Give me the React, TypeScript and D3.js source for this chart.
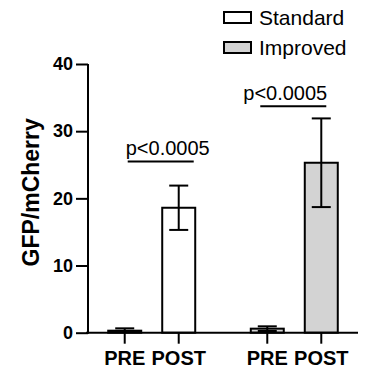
import React, { useEffect, useRef } from "react";
import * as d3 from "d3";

// chart values
const groups = ["Standard", "Improved"];
const conditions = ["PRE", "POST"];
const meanValues = [
  [0.3, 18.6],
  [0.6, 25.3],
];
const sdValues = [
  [0.35, 3.3],
  [0.35, 6.6],
];
const groupFills = ["#ffffff", "#d3d3d3"];
const yTicks = [0, 10, 20, 30, 40];
const pLabels = ["p<0.0005", "p<0.0005"];
const pBarHeights = [25.5, 33.7];

const FONT = "Arial, 'Liberation Sans', Helvetica, sans-serif";

const App = () => {
  const ref = useRef<SVGSVGElement>(null);

  useEffect(() => {
    const svg = d3.select(ref.current);
    svg.selectAll("*").remove();

    // scales
    const y = d3.scaleLinear().domain([0, 40]).range([332.7, 64]);
    const xGroup = d3.scalePoint<string>().domain(groups).range([88, 358]).padding(0.447);
    const xInner = d3
      .scaleBand<string>()
      .domain(conditions)
      .range([-43.5, 43.5])
      .paddingInner(0.389)
      .paddingOuter(0);
    const bw = xInner.bandwidth();
    const cx = (g: string, c: string) => (xGroup(g) as number) + (xInner(c) as number) + bw / 2;

    const rows = groups.flatMap((g, gi) =>
      conditions.map((c, ci) => ({
        group: g,
        cond: c,
        gi,
        mean: meanValues[gi][ci],
        sd: sdValues[gi][ci],
      }))
    );

    // bars
    svg
      .selectAll(".bar")
      .data(rows)
      .enter()
      .append("rect")
      .attr("class", "bar")
      .attr("x", (d) => cx(d.group, d.cond) - bw / 2)
      .attr("width", bw)
      .attr("y", (d) => y(d.mean))
      .attr("height", (d) => y(0) - y(d.mean))
      .style("fill", (d) => groupFills[d.gi])
      .style("stroke", "#000")
      .style("stroke-width", 2);

    // error bars
    const capW = 19;
    const err = svg.append("g").style("stroke", "#000").style("stroke-width", 2);
    rows.forEach((d) => {
      const x0 = cx(d.group, d.cond);
      err
        .append("line")
        .attr("x1", x0)
        .attr("x2", x0)
        .attr("y1", y(d.mean + d.sd))
        .attr("y2", y(Math.max(0, d.mean - d.sd)));
      err
        .append("line")
        .attr("x1", x0 - capW / 2)
        .attr("x2", x0 + capW / 2)
        .attr("y1", y(d.mean + d.sd))
        .attr("y2", y(d.mean + d.sd));
      if (d.mean - d.sd > 0) {
        err
          .append("line")
          .attr("x1", x0 - capW / 2)
          .attr("x2", x0 + capW / 2)
          .attr("y1", y(d.mean - d.sd))
          .attr("y2", y(d.mean - d.sd));
      }
    });

    // y axis
    const yAxis = svg.append("g").attr("transform", "translate(88,0)");
    yAxis.call(d3.axisLeft(y).tickValues(yTicks).tickSize(12).tickSizeOuter(0).tickPadding(3));
    yAxis.select(".domain").attr("stroke-width", 2).attr("d", `M0,${y(40)}V${y(0) + 1}`);
    yAxis.selectAll(".tick line").attr("stroke-width", 2);
    yAxis
      .selectAll(".tick text")
      .attr("font-family", FONT)
      .attr("font-size", 18)
      .attr("font-weight", "bold")
      .attr("fill", "#000");

    // x axis
    const xAxis = svg.append("g");
    xAxis
      .append("line")
      .attr("x1", 86)
      .attr("x2", 358)
      .attr("y1", y(0))
      .attr("y2", y(0))
      .style("stroke", "#000")
      .style("stroke-width", 2);
    rows.forEach((d) => {
      const x0 = cx(d.group, d.cond);
      xAxis
        .append("line")
        .attr("x1", x0)
        .attr("x2", x0)
        .attr("y1", y(0))
        .attr("y2", y(0) + 11)
        .style("stroke", "#000")
        .style("stroke-width", 2);
      xAxis
        .append("text")
        .attr("x", x0)
        .attr("y", 365)
        .attr("text-anchor", "middle")
        .attr("font-family", FONT)
        .attr("font-size", 20)
        .attr("font-weight", "bold")
        .text(d.cond);
    });

    // y axis title
    svg
      .append("text")
      .attr("transform", `translate(39,${(y(0) + y(40)) / 2 - 6}) rotate(-90)`)
      .attr("text-anchor", "middle")
      .attr("font-family", FONT)
      .attr("font-size", 23)
      .attr("font-weight", "bold")
      .text("GFP/mCherry");

    // significance annotations
    const lineOffsets = [
      [3, 15],
      [-7, 5],
    ];
    const textOffsets = [1, -24];
    groups.forEach((g, gi) => {
      const ly = y(pBarHeights[gi]);
      svg
        .append("line")
        .attr("x1", cx(g, "PRE") + lineOffsets[gi][0])
        .attr("x2", cx(g, "POST") + lineOffsets[gi][1])
        .attr("y1", ly)
        .attr("y2", ly)
        .style("stroke", "#000")
        .style("stroke-width", 2);
      svg
        .append("text")
        .attr("x", cx(g, "PRE") + textOffsets[gi])
        .attr("y", ly - 6)
        .attr("font-family", FONT)
        .attr("font-size", 20)
        .text(pLabels[gi]);
    });

    // legend
    const legend = svg.append("g").attr("transform", "translate(224,12)");
    groups.forEach((g, gi) => {
      legend
        .append("rect")
        .attr("x", 0)
        .attr("y", gi * 30)
        .attr("width", 27)
        .attr("height", 11)
        .style("fill", groupFills[gi])
        .style("stroke", "#000")
        .style("stroke-width", 2);
      legend
        .append("text")
        .attr("x", 35)
        .attr("y", gi * 30 + 13)
        .attr("font-family", FONT)
        .attr("font-size", 21)
        .text(g);
    });
  }, []);

  return (
    <svg
      ref={ref}
      width={365}
      height={368}
      style={{ position: "absolute", left: 0, top: 0, background: "#fff" }}
    />
  );
};

export default App;
